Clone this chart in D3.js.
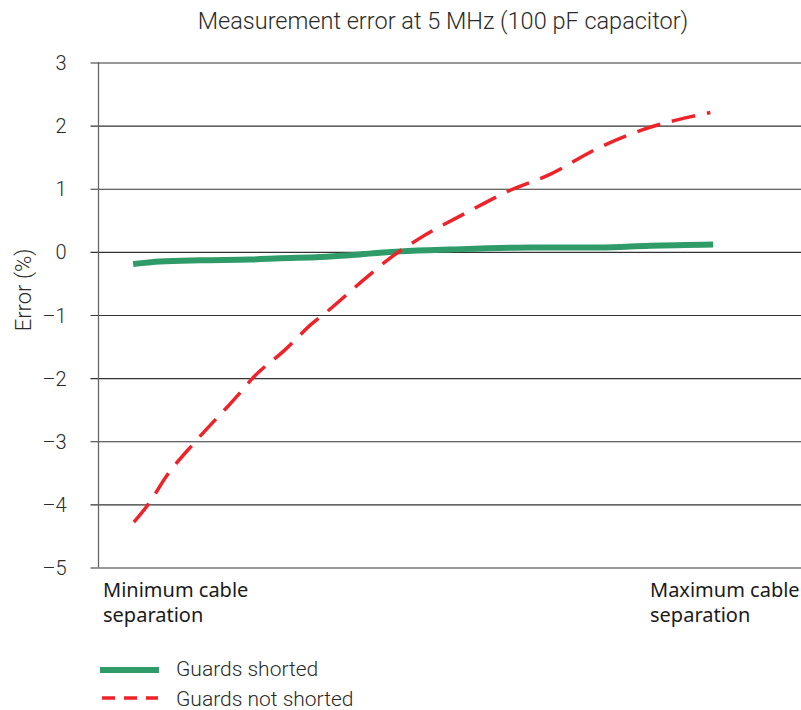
<!DOCTYPE html>
<html>
<head>
<meta charset="utf-8">
<script src="https://cdn.jsdelivr.net/npm/d3@7"></script>
<style>
  html, body { margin: 0; padding: 0; background: #fff; }
  svg { display: block; }
</style>
</head>
<body>
<svg id="chart" width="801" height="710"></svg>
<script>
// Cable separation position (0 = minimum .. 100 = maximum of the axis span)
const shortedPos   = [5.0, 8.8, 14.5, 21.6, 25.9, 31.6, 35.8, 40.1, 43.0, 50.1, 61.5, 71.4, 78.5, 87.5];
const shortedErr   = [-0.20, -0.16, -0.14, -0.13, -0.11, -0.09, -0.06, -0.02, 0.0, 0.03, 0.06, 0.06, 0.09, 0.11];

const notShortedPos = [5.1, 7.0, 10.0, 13.8, 20.2, 21.9, 26.6, 30.6, 32.3, 37.7, 41.5, 45.8, 52.2, 58.9, 63.9, 71.4, 78.1, 84.2, 87.1];
const notShortedErr = [-4.29, -4.03, -3.52, -3.02, -2.24, -2.02, -1.56, -1.13, -0.98, -0.46, -0.11, 0.21, 0.60, 0.98, 1.20, 1.65, 1.95, 2.13, 2.20];

const yTicks = [3, 2, 1, 0, -1, -2, -3, -4, -5];
const yTickLabels = ["3", "2", "1", "0", "\u20131", "\u20132", "\u20133", "\u20134", "\u20135"];
const seriesNames = ["Guards shorted", "Guards not shorted"];
const title = "Measurement error at 5 MHz (100 pF capacitor)";
const yTitle = "Error (%)";
const xEndLabels = [["Minimum cable", "separation"], ["Maximum cable", "separation"]];

const GREEN = "#2f9b69";
const RED = "#ee2229";
const FONT = "Roboto, 'Open Sans', sans-serif";
const LABEL_FONT = "'Noto Sans', 'Open Sans', sans-serif";

const svg = d3.select("#chart");

const x = d3.scaleLinear().domain([0, 100]).range([98, 801]);
const y = d3.scaleLinear().domain([-5, 3]).range([567, 62]);

// Title
svg.append("text")
  .attr("x", 443).attr("y", 29)
  .attr("text-anchor", "middle")
  .attr("font-family", FONT).attr("font-weight", 300)
  .attr("font-size", 23.5).attr("fill", "#2a2a2a")
  .text(title);

// Horizontal gridlines with tick stubs left of the axis
const axis = d3.axisLeft(y)
  .tickValues(yTicks)
  .tickFormat((d, i) => yTickLabels[i])
  .tickSize(-(801 - 90))
  .tickPadding(24);

const gAxis = svg.append("g")
  .attr("transform", "translate(90.5,0.5)")
  .call(axis);
gAxis.select(".domain").remove();
gAxis.selectAll(".tick line")
  .attr("x2", 801 - 90)
  .attr("stroke", "#333")
  .attr("stroke-width", 1.1);
gAxis.selectAll(".tick text")
  .attr("font-family", FONT).attr("font-weight", 300)
  .attr("font-size", 20).attr("fill", "#2a2a2a")
  .attr("dy", "0.35em");

// Vertical axis line
svg.append("line")
  .attr("x1", 98.5).attr("x2", 98.5)
  .attr("y1", y(3)).attr("y2", y(-5) + 0.5)
  .attr("stroke", "#666").attr("stroke-width", 1.3);

// Y-axis title
svg.append("text")
  .attr("transform", "translate(31,290) rotate(-90)")
  .attr("text-anchor", "middle")
  .attr("font-family", FONT).attr("font-weight", 300)
  .attr("font-size", 22).attr("fill", "#2a2a2a")
  .text(yTitle);

// End labels along the x axis
const endX = [103, 650];
xEndLabels.forEach((lines, i) => {
  const t = svg.append("text")
    .attr("font-family", LABEL_FONT)
    .attr("font-size", 20).attr("fill", "#1a1a1a");
  lines.forEach((s, j) => {
    t.append("tspan").attr("x", endX[i]).attr("y", 597 + j * 25).text(s);
  });
});

// Series lines
const line = d3.line().x(d => x(d[0])).y(d => y(d[1])).curve(d3.curveMonotoneX);

const shorted = shortedPos.map((p, i) => [p, shortedErr[i]]);
const notShorted = notShortedPos.map((p, i) => [p, notShortedErr[i]]);

svg.append("path")
  .datum(shorted)
  .attr("d", line)
  .attr("fill", "none")
  .attr("stroke", GREEN)
  .attr("stroke-width", 6);

svg.append("path")
  .datum(notShorted)
  .attr("d", line)
  .attr("fill", "none")
  .attr("stroke", RED)
  .attr("stroke-width", 3.5)
  .attr("stroke-dasharray", "24,12");

// Legend
const legend = svg.append("g");
legend.append("line")
  .attr("x1", 100).attr("x2", 159).attr("y1", 670).attr("y2", 670)
  .attr("stroke", GREEN).attr("stroke-width", 6);
legend.append("line")
  .attr("x1", 102).attr("x2", 158).attr("y1", 698).attr("y2", 698)
  .attr("stroke", RED).attr("stroke-width", 3.5)
  .attr("stroke-dasharray", "13,9");
seriesNames.forEach((name, i) => {
  legend.append("text")
    .attr("x", 176).attr("y", 669 + i * 30)
    .attr("dy", "0.35em")
    .attr("font-family", FONT).attr("font-weight", 300)
    .attr("font-size", 21).attr("fill", "#2a2a2a")
    .text(name);
});
</script>
</body>
</html>
